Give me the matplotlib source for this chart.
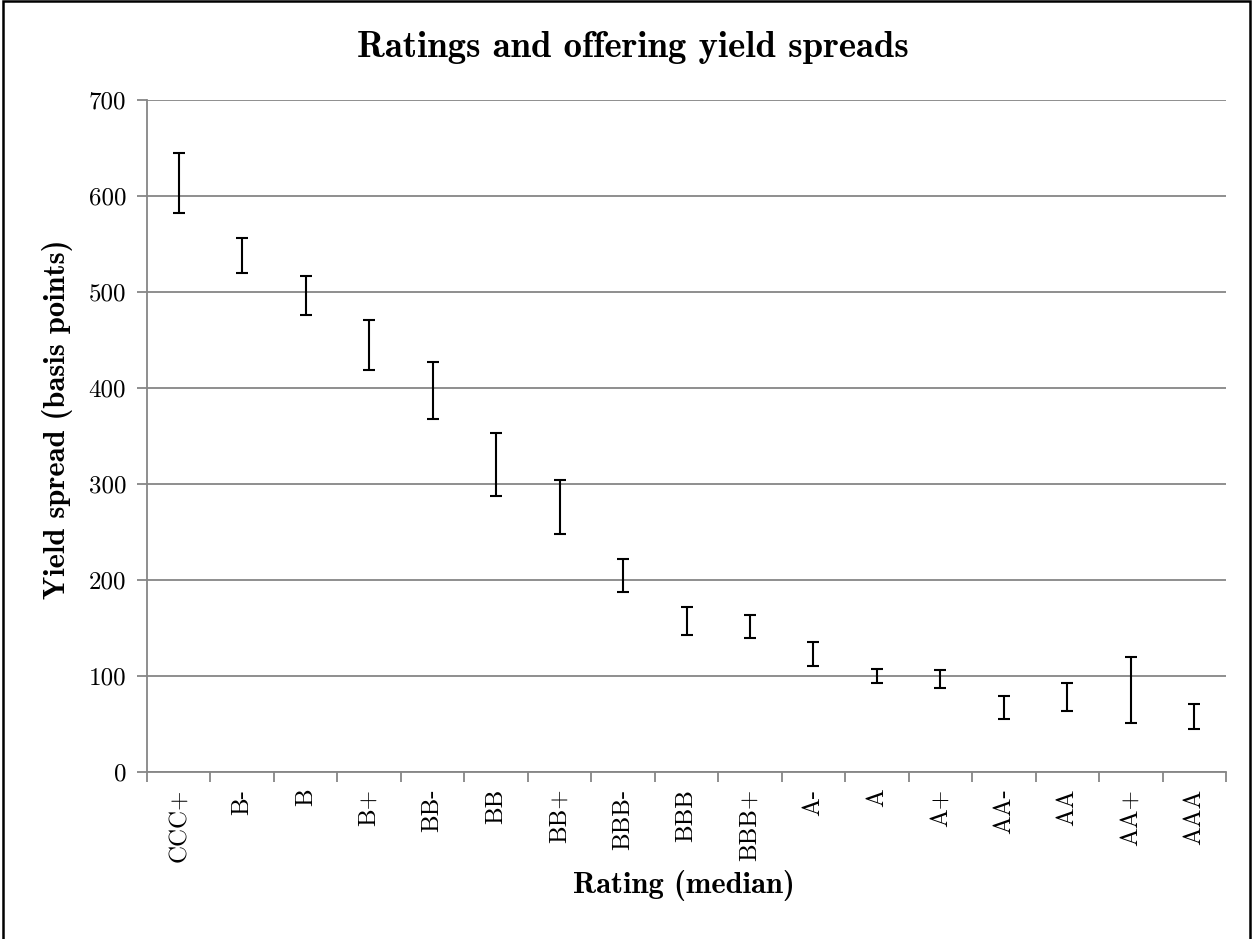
import numpy as np
import matplotlib.pyplot as plt
from matplotlib.patches import Rectangle

ratings = ['CCC+', 'B-', 'B', 'B+', 'BB-', 'BB', 'BB+', 'BBB-', 'BBB', 'BBB+',
           'A-', 'A', 'A+', 'AA-', 'AA', 'AA+', 'AAA']
low = [582, 520, 476, 419, 368, 288, 248, 188, 143, 140,
       110, 93, 88, 55, 64, 51, 45]
high = [645, 556, 517, 471, 427, 353, 304, 222, 172, 164,
        135, 107, 106, 79, 93, 120, 71]
yticks = [0, 100, 200, 300, 400, 500, 600, 700]

plt.rcParams['font.family'] = ['cmr10', 'DejaVu Serif']
plt.rcParams['axes.formatter.use_mathtext'] = True

fig = plt.figure(figsize=(12.53, 9.39), dpi=100)
ax = fig.add_axes([0.1173, 0.1778, 0.8612, 0.7157])

x = np.arange(len(ratings))
lo = np.array(low, dtype=float)
hi = np.array(high, dtype=float)
mid = (lo + hi) / 2
ax.errorbar(x, mid, yerr=[mid - lo, hi - mid], fmt='none', ecolor='black',
            elinewidth=1.5, capsize=4.5, capthick=1.5, zorder=3)

grey = '#868686'
ax.set_xlim(-0.5, len(ratings) - 0.5)
ax.set_ylim(0, 700)
ax.set_yticks(yticks)
ax.set_yticklabels([str(v) for v in yticks])
ax.yaxis.grid(True, color=grey, linewidth=1.3)
ax.set_axisbelow(True)

ax.set_xticks(x)
ax.set_xticklabels(ratings, rotation=90, va='top')
ax.set_xticks(np.arange(len(ratings) + 1) - 0.5, minor=True)
ax.tick_params(axis='x', which='major', length=0, pad=12, labelsize=18)
ax.tick_params(axis='x', which='minor', length=7, width=1.3, color=grey, direction='out')
ax.tick_params(axis='y', length=7, width=1.3, color=grey, labelsize=18, pad=8)

for s in ['top', 'right']:
    ax.spines[s].set_visible(False)
for s in ['left', 'bottom']:
    ax.spines[s].set_color(grey)
    ax.spines[s].set_linewidth(1.3)

fig.text(0.505, 0.949, 'Ratings and offering yield spreads', ha='center', va='center',
         fontsize=26.5, family='cmb10')
fig.text(0.546, 0.0565, 'Rating (median)', ha='center', va='center',
         fontsize=22, family='cmb10')
fig.text(0.046, 0.553, 'Yield spread (basis points)', ha='center', va='center',
         rotation=90, fontsize=22, family='cmb10')

fig.add_artist(Rectangle((0.002, -0.05), 0.996, 1.049, transform=fig.transFigure,
                         fill=False, edgecolor='black', linewidth=1.8))

fig.savefig('out.png', dpi=100)
